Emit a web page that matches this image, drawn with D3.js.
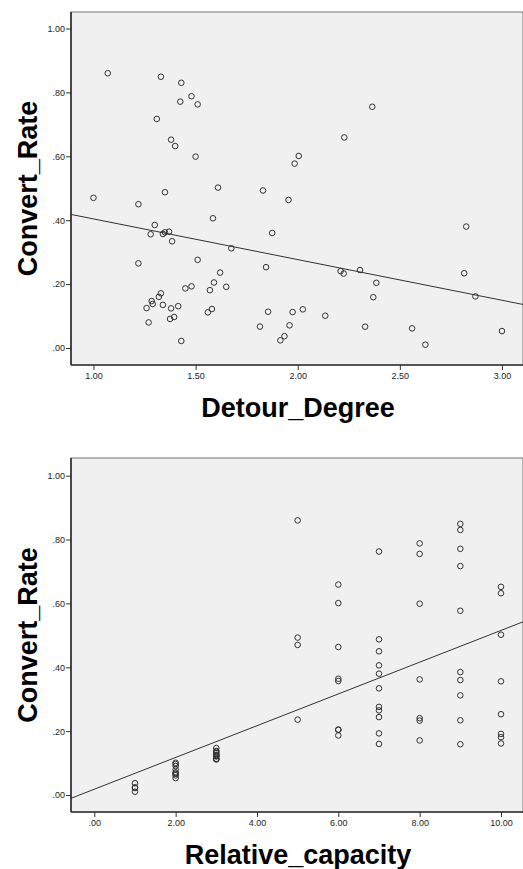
<!DOCTYPE html>
<html>
<head>
<meta charset="utf-8">
<script src="https://d3js.org/d3.v7.min.js"></script>
<style>
  body { margin: 0; background: #fff; }
  svg { display: block; }
  .tick text { font-family: Arial, "Liberation Sans", sans-serif; font-size: 9px; fill: #222; }
  .tick line { stroke: #333; }
  .title { font-family: Arial, "Liberation Sans", sans-serif; font-weight: bold; font-size: 27px; fill: #000; }
</style>
</head>
<body>
<svg width="523" height="869"></svg>
<script>
// Convert_Rate, sorted; each index is one observation
var convertRate = [0.0103, 0.022, 0.024, 0.037, 0.053, 0.0615, 0.0667, 0.067, 0.071, 0.08,
    0.091, 0.097, 0.101, 0.1115, 0.1125, 0.1135, 0.121, 0.122, 0.124, 0.125,
    0.131, 0.135, 0.138, 0.147, 0.159, 0.16, 0.1615, 0.171, 0.181, 0.1865,
    0.1915, 0.193, 0.204, 0.205, 0.233, 0.234, 0.236, 0.2406, 0.244, 0.253,
    0.265, 0.276, 0.312, 0.334, 0.356, 0.357, 0.36, 0.362, 0.364, 0.38,
    0.385, 0.406, 0.45, 0.4635, 0.47, 0.4875, 0.493, 0.502, 0.577, 0.599,
    0.601, 0.632, 0.652, 0.659, 0.717, 0.755, 0.7625, 0.771, 0.788, 0.83,
    0.849, 0.86];

var detourDegree = [2.625, 1.43, 1.915, 1.935, 3.00, 2.56, 2.33, 1.815, 1.96, 1.27,
    1.375, 1.395, 2.135, 1.56, 1.975, 1.855, 2.025, 1.58, 1.38, 1.26,
    1.415, 1.34, 1.29, 1.285, 2.37, 1.32, 2.87, 1.33, 1.57, 1.45,
    1.65, 1.48, 2.385, 1.59, 2.225, 2.815, 1.62, 2.21, 2.305, 1.845,
    1.22, 1.51, 1.675, 1.385, 1.28, 1.34, 1.875, 1.35, 1.37, 2.825,
    1.30, 1.585, 1.22, 1.955, 1.00, 1.35, 1.83, 1.61, 1.985, 1.50,
    2.005, 1.40, 1.38, 2.228, 1.31, 2.365, 1.51, 1.425, 1.48, 1.43,
    1.33, 1.07];

var relativeCapacity = [1, 1, 1, 1, 2, 2, 2, 2, 2, 2,
    2, 2, 2, 3, 3, 3, 3, 3, 3, 3,
    3, 3, 3, 3, 9, 7, 10, 8, 10, 6,
    10, 7, 6, 6, 8, 9, 5, 8, 7, 10,
    7, 7, 9, 7, 10, 6, 9, 8, 6, 7,
    9, 7, 7, 6, 5, 7, 5, 10, 9, 8,
    6, 10, 10, 6, 9, 8, 7, 9, 8, 9,
    9, 5];

var yTicks = [0, 0.2, 0.4, 0.6, 0.8, 1.0];
var xTicksTop = [1.0, 1.5, 2.0, 2.5, 3.0];
var xTicksBottom = [0, 2, 4, 6, 8, 10];

var svg = d3.select("svg");
var left = 71, right = 523;

function fmt(v) {
    var s = d3.format(".2f")(v);
    return s.charAt(0) === "0" ? s.slice(1) : s;
}

// ordinary least squares, the SPSS "fit line at total"
function fit(xs, ys) {
    var mx = d3.mean(xs), my = d3.mean(ys), sxy = 0, sxx = 0;
    xs.forEach(function(x, i) { sxy += (x - mx) * (ys[i] - my); sxx += (x - mx) * (x - mx); });
    var b = sxy / sxx;
    return { a: my - b * mx, b: b };
}

function scatter(opts) {
    var g = svg.append("g");
    var x = d3.scaleLinear().domain(opts.xDomain).range([left, right]);
    var y = d3.scaleLinear().domain(opts.yDomain).range([opts.bottom, opts.top]);
    var id = "clip" + opts.top;

    svg.append("clipPath").attr("id", id).append("rect")
        .attr("x", left).attr("y", opts.top)
        .attr("width", right - left).attr("height", opts.bottom - opts.top);

    g.append("rect")
        .attr("x", left).attr("y", opts.top)
        .attr("width", right - left).attr("height", opts.bottom - opts.top)
        .attr("fill", "#f0f0f0")
        .attr("stroke", "#777").attr("stroke-width", 1);

    var plot = g.append("g").attr("clip-path", "url(#" + id + ")");

    var f = fit(opts.xs, opts.ys);
    plot.append("line")
        .attr("x1", x(opts.xDomain[0])).attr("y1", y(f.a + f.b * opts.xDomain[0]))
        .attr("x2", x(opts.xDomain[1])).attr("y2", y(f.a + f.b * opts.xDomain[1]))
        .attr("stroke", "#333").attr("stroke-width", 1);

    plot.selectAll("circle")
        .data(opts.xs)
        .enter().append("circle")
        .attr("cx", function(d) { return x(d); })
        .attr("cy", function(d, i) { return y(opts.ys[i]); })
        .attr("r", 2.8)
        .attr("fill", "none")
        .attr("stroke", "#333")
        .attr("stroke-width", 1);

    // axes
    var ya = g.append("g").attr("transform", "translate(" + left + ",0)")
        .call(d3.axisLeft(y).tickValues(yTicks).tickFormat(fmt).tickSize(5).tickPadding(1));
    ya.select(".domain").remove();
    var xa = g.append("g").attr("transform", "translate(0," + opts.bottom + ")")
        .call(d3.axisBottom(x).tickValues(opts.xTicks).tickFormat(fmt).tickSize(5).tickPadding(3));
    xa.select(".domain").remove();

    g.append("line").attr("x1", left).attr("x2", left)
        .attr("y1", opts.top).attr("y2", opts.bottom)
        .attr("stroke", "#222").attr("stroke-width", 1.5);
    g.append("line").attr("x1", left).attr("x2", right)
        .attr("y1", opts.bottom).attr("y2", opts.bottom)
        .attr("stroke", "#333").attr("stroke-width", 1.5);

    g.append("text").attr("class", "title")
        .attr("text-anchor", "middle")
        .attr("transform", "translate(37," + (opts.top + opts.bottom) / 2 + ") rotate(-90)")
        .text("Convert_Rate");
    g.append("text").attr("class", "title")
        .attr("text-anchor", "middle")
        .attr("x", 298).attr("y", opts.bottom + 52)
        .text(opts.xLabel);
}

scatter({
    top: 12, bottom: 365,
    xDomain: [0.89, 3.103], yDomain: [-0.0532, 1.0516],
    xTicks: xTicksTop, xs: detourDegree, ys: convertRate,
    xLabel: "Detour_Degree"
});

scatter({
    top: 458, bottom: 812,
    xDomain: [-0.573, 10.541], yDomain: [-0.0532, 1.0554],
    xTicks: xTicksBottom, xs: relativeCapacity, ys: convertRate,
    xLabel: "Relative_capacity"
});
</script>
</body>
</html>
